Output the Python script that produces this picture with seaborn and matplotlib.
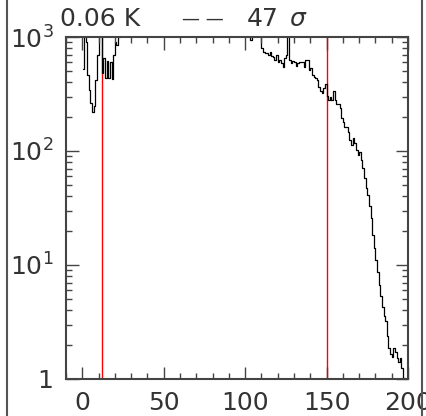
import numpy as np
import matplotlib
matplotlib.use('Agg')
import matplotlib.pyplot as plt
import seaborn as sns
from matplotlib.ticker import FixedLocator, LogLocator, NullFormatter, MultipleLocator
from matplotlib.lines import Line2D

# bin centres (width 1) and counts
bin_left = list(range(0, 200))
counts = [
    520, 2000, 900, 460, 340, 265, 218, 250, 420, 700,
    1500, 1200, 480, 650, 440, 620, 440, 600, 430, 700,
    900, 850, 1000, 2000, 2000, 2000, 2000, 2000, 2000, 2000,
    2000, 2000, 2000, 2000, 2000, 2000, 2000, 2000, 2000, 2000,
    2000, 2000, 2000, 2000, 2000, 2000, 2000, 2000, 2000, 2000,
    2000, 2000, 2000, 2000, 2000, 2000, 2000, 2000, 2000, 2000,
    2000, 2000, 2000, 2000, 2000, 2000, 2000, 2000, 2000, 2000,
    2000, 2000, 2000, 2000, 2000, 2000, 2000, 2000, 2000, 2000,
    2000, 2000, 2000, 2000, 2000, 2000, 2000, 2000, 2000, 2000,
    2000, 2000, 2000, 2000, 2000, 2000, 2000, 2000, 2000, 2000,
    2000, 2000, 2000, 940, 2000, 2000, 2000, 2000, 2000, 2000,
    800, 740, 720, 720, 700, 740, 680, 665, 630, 700,
    600, 630, 590, 545, 650, 700, 1200, 630, 590, 610,
    600, 560, 590, 600, 600, 600, 545, 630, 630, 510,
    530, 460, 450, 435, 420, 365, 335, 320, 355, 390,
    305, 280, 300, 280, 335, 280, 260, 260, 237, 194,
    180, 162, 162, 146, 125, 113, 130, 117, 102, 92,
    98, 83, 71, 58, 47, 41, 33, 26, 18.3, 14,
    11, 8.7, 6.7, 5.4, 4.3, 3.6, 3.2, 2.4, 1.87, 1.66,
    1.56, 1.87, 1.72, 1.53, 1.41, 1.53, 1.25, 1.02, 0.8, 0.8,
]
centres = [b + 0.5 for b in bin_left]

red_lines = [12.3, 150]
x_ticks = [0, 50, 100, 150, 200]
x_ticklabels = ['0', '50', '100', '150', '200']
y_ticks = [1, 10, 100, 1000]
y_ticklabels = ['1', '$10^1$', '$10^2$', '$10^3$']
title_parts = ['0.06 K', '\u2014 \u2014', '47', '$\\sigma$']
title_xpix = [60, 182, 247, 289]
title_sizes = [18, 13, 18, 18]

sns.set_style('ticks')
plt.rcParams['font.family'] = ['DejaVu Sans']
plt.rcParams['mathtext.fontset'] = 'dejavusans'

fig = plt.figure(figsize=(4.26, 4.16), dpi=100)
ax = fig.add_axes([66 / 426, 37 / 416, 342 / 426, 342 / 416])

for xv in red_lines:
    ax.axvline(xv, color='red', lw=1.0, zorder=1)

sns.lineplot(x=centres, y=counts, drawstyle='steps-mid', color='black',
             lw=0.9, ax=ax, zorder=2)

ax.set_yscale('log')
ax.set_xlim(-10, 200)
ax.set_ylim(1, 1000)
ax.set_axisbelow(False)

ax.xaxis.set_major_locator(FixedLocator(x_ticks))
ax.set_xticklabels(x_ticklabels)
ax.xaxis.set_minor_locator(MultipleLocator(10))
ax.yaxis.set_major_locator(FixedLocator(y_ticks))
ax.set_yticklabels(y_ticklabels)
ax.yaxis.set_minor_locator(LogLocator(base=10, subs=np.arange(2, 10)))
ax.yaxis.set_minor_formatter(NullFormatter())

ax.tick_params(which='both', direction='in', top=True, right=True,
               color='#444444', labelsize=18, labelcolor='#333333')
ax.tick_params(which='major', length=9, width=1.0)
ax.tick_params(which='minor', length=4.5, width=1.0)
ax.tick_params(axis='x', pad=9)
ax.tick_params(axis='y', pad=9)
for s in ax.spines.values():
    s.set_linewidth(1.5)
    s.set_color('#444444')
ax.set_xlabel('')
ax.set_ylabel('')

for txt, xp, fs in zip(title_parts, title_xpix, title_sizes):
    fig.text(xp / 426, 1 - 19 / 416, txt, fontsize=fs, color='#333333',
             ha='left', va='center')

for xf in [7 / 426, 422 / 426]:
    fig.add_artist(Line2D([xf, xf], [0, 1], transform=fig.transFigure,
                          color='#555555', lw=1.5))

fig.savefig('out.png', dpi=100)
